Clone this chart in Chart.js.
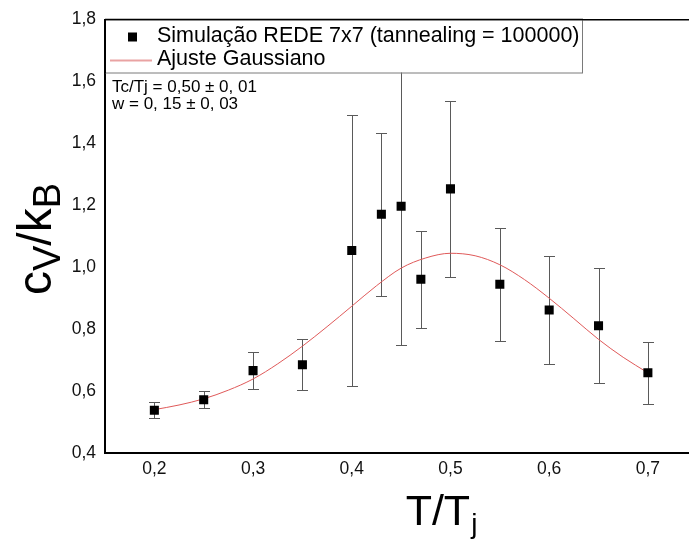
<!DOCTYPE html>
<html>
<head>
<meta charset="utf-8">
<script src="https://cdn.jsdelivr.net/npm/chart.js@4/dist/chart.umd.min.js"></script>
<style>
  html, body { margin: 0; padding: 0; background: #ffffff; overflow: hidden; }
  #wrap { width: 689px; height: 542px; position: relative; overflow: hidden; }
  #c { position: absolute; left: 0; top: 0; }
</style>
</head>
<body>
<div id="wrap"><canvas id="c" width="760" height="542"></canvas></div>
<script>
// ---- data ----
const xValues  = [0.20, 0.25, 0.30, 0.35, 0.40, 0.43, 0.45, 0.47, 0.50, 0.55, 0.60, 0.65, 0.70];
const cvValues = [0.538, 0.572, 0.666, 0.685, 1.054, 1.171, 1.197, 0.961, 1.253, 0.945, 0.862, 0.811, 0.659];
const cvErrors = [0.026, 0.027, 0.060, 0.083, 0.437, 0.263, 0.449, 0.157, 0.284, 0.182, 0.174, 0.186, 0.100];

const fitX = [0.200, 0.225, 0.250, 0.275, 0.300, 0.325, 0.350, 0.375, 0.400, 0.425, 0.450,
              0.475, 0.500, 0.525, 0.550, 0.575, 0.600, 0.625, 0.650, 0.675, 0.700];
const fitY = [0.540, 0.555, 0.575, 0.603, 0.639, 0.688, 0.745, 0.808, 0.874, 0.940, 0.997,
              1.030, 1.045, 1.037, 1.008, 0.960, 0.900, 0.834, 0.767, 0.709, 0.659];

const xTicks = [0.2, 0.3, 0.4, 0.5, 0.6, 0.7];
const yTicks = [0.4, 0.6, 0.8, 1.0, 1.2, 1.4, 1.6, 1.8];

const seriesLabel = 'Simulação REDE 7x7 (tannealing = 100000)';
const fitLabel = 'Ajuste Gaussiano';
const annotLines = ['Tc/Tj = 0,50 ± 0, 01', 'w = 0, 15 ± 0, 03'];

const FONT = '"Liberation Sans", Arial, Helvetica, sans-serif';
const fmt = v => v.toFixed(1).replace('.', ',');

const bgPlugin = {
  id: 'bg',
  beforeDraw(chart) {
    const ctx = chart.ctx;
    ctx.save();
    ctx.fillStyle = '#ffffff';
    ctx.fillRect(0, 0, chart.width, chart.height);
    ctx.restore();
  }
};

const errorBars = {
  id: 'errorBars',
  beforeDatasetsDraw(chart) {
    const ctx = chart.ctx;
    const xs = chart.scales.x, ys = chart.scales.y;
    ctx.save();
    ctx.strokeStyle = '#5a5a5a';
    ctx.lineWidth = 1;
    for (let i = 0; i < xValues.length; i++) {
      const px = Math.round(xs.getPixelForValue(xValues[i])) + 0.5;
      const yT = Math.round(ys.getPixelForValue(cvValues[i] + cvErrors[i])) + 0.5;
      const yB = Math.round(ys.getPixelForValue(cvValues[i] - cvErrors[i])) + 0.5;
      ctx.beginPath();
      ctx.moveTo(px, yT); ctx.lineTo(px, yB);
      ctx.moveTo(px - 5.5, yT); ctx.lineTo(px + 5.5, yT);
      ctx.moveTo(px - 5.5, yB); ctx.lineTo(px + 5.5, yB);
      ctx.stroke();
    }
    ctx.restore();
  }
};

const overlay = {
  id: 'overlay',
  afterDraw(chart) {
    const ctx = chart.ctx;
    const ca = chart.chartArea;
    ctx.save();
    // legend box
    const lx = ca.left, ly = ca.top, lw = 477, lh = 53;
    ctx.fillStyle = '#ffffff';
    ctx.fillRect(lx, ly, lw, lh);
    ctx.strokeStyle = '#7a7a7a';
    ctx.lineWidth = 1;
    ctx.strokeRect(lx + 0.5, ly + 0.5, lw, lh);
    // redraw left axis segment and top border over legend box
    ctx.strokeStyle = '#000';
    ctx.lineWidth = 2;
    ctx.beginPath(); ctx.moveTo(ca.left, ca.top); ctx.lineTo(ca.left, ca.top + lh + 1); ctx.stroke();
    ctx.lineWidth = 1.5;
    ctx.beginPath(); ctx.moveTo(ca.left, ca.top); ctx.lineTo(ca.left + lw + 1, ca.top); ctx.stroke();

    // legend entries
    ctx.fillStyle = '#000';
    ctx.fillRect(lx + 23, ly + 13, 9, 9);
    ctx.strokeStyle = '#e9a3a3';
    ctx.lineWidth = 2;
    ctx.beginPath(); ctx.moveTo(lx + 5, ly + 41); ctx.lineTo(lx + 47, ly + 41); ctx.stroke();
    ctx.fillStyle = '#000';
    ctx.font = '21.5px ' + FONT;
    ctx.textBaseline = 'middle';
    ctx.textAlign = 'left';
    ctx.fillText(seriesLabel, lx + 52, ly + 17);
    ctx.fillText(fitLabel, lx + 52, ly + 40);

    // annotation
    ctx.font = '17px ' + FONT;
    ctx.fillText(annotLines[0], lx + 7, ly + 68);
    ctx.fillText(annotLines[1], lx + 7, ly + 85);

    // x title T/T_j
    ctx.textBaseline = 'alphabetic';
    ctx.font = '43px ' + FONT;
    const main = 'T/T';
    const wMain = ctx.measureText(main).width;
    ctx.font = '28px ' + FONT;
    const wSub = ctx.measureText('j').width;
    const cx = 441, by = 525;
    let sx = cx - (wMain + wSub) / 2;
    ctx.font = '43px ' + FONT;
    ctx.fillText(main, sx, by);
    ctx.font = '28px ' + FONT;
    ctx.fillText('j', sx + wMain + 1, by + 8);

    // y title c_V/k_B (rotated)
    ctx.translate(51, 239);
    ctx.rotate(-Math.PI / 2);
    const parts = [['c', 48, 0], ['V', 38, 9], ['/k', 48, 0], ['B', 38, 9]];
    let total = 0;
    parts.forEach(p => { ctx.font = p[1] + 'px ' + FONT; total += ctx.measureText(p[0]).width; });
    let px = -total / 2;
    parts.forEach(p => {
      ctx.font = p[1] + 'px ' + FONT;
      ctx.fillText(p[0], px, p[2]);
      px += ctx.measureText(p[0]).width;
    });
    ctx.restore();
  }
};

new Chart(document.getElementById('c'), {
  type: 'scatter',
  data: {
    datasets: [
      {
        label: seriesLabel,
        data: xValues.map((x, i) => ({ x, y: cvValues[i] })),
        pointStyle: 'rect',
        pointRadius: 6.4,
        pointHoverRadius: 6.4,
        backgroundColor: '#000',
        borderWidth: 0,
        showLine: false
      },
      {
        label: fitLabel,
        data: fitX.map((x, i) => ({ x, y: fitY[i] })),
        showLine: true,
        pointRadius: 0,
        borderColor: '#e05a5a',
        borderWidth: 1,
        cubicInterpolationMode: 'monotone',
        fill: false
      }
    ]
  },
  options: {
    responsive: false,
    animation: false,
    devicePixelRatio: 1,
    layout: { padding: { left: 0, right: 0, top: 16, bottom: 0 } },
    plugins: { legend: { display: false }, tooltip: { enabled: false } },
    scales: {
      x: {
        type: 'linear', position: 'bottom', min: 0.15, max: 0.8071,
        grid: { display: false, drawTicks: false },
        border: { display: true, color: '#000', width: 2 },
        afterBuildTicks: s => { s.ticks = xTicks.map(v => ({ value: v })); },
        afterFit: s => { s.height = 89; },
        ticks: { color: '#111', font: { family: FONT, size: 17.5 }, padding: 6, maxRotation: 0,
                 callback: v => fmt(v) }
      },
      x2: {
        type: 'linear', position: 'top', min: 0.15, max: 0.8071,
        grid: { display: false, drawTicks: false },
        border: { display: true, color: '#000', width: 1.5 },
        ticks: { display: false },
        afterFit: s => { s.height = 0; }
      },
      y: {
        type: 'linear', min: 0.4, max: 1.8,
        grid: { display: false, drawTicks: false },
        border: { display: true, color: '#000', width: 2 },
        afterBuildTicks: s => { s.ticks = yTicks.map(v => ({ value: v })); },
        afterFit: s => { s.width = 105; },
        ticks: { color: '#111', font: { family: FONT, size: 17.5 }, padding: 9,
                 callback: v => fmt(v) }
      }
    }
  },
  plugins: [bgPlugin, errorBars, overlay]
});
</script>
</body>
</html>
